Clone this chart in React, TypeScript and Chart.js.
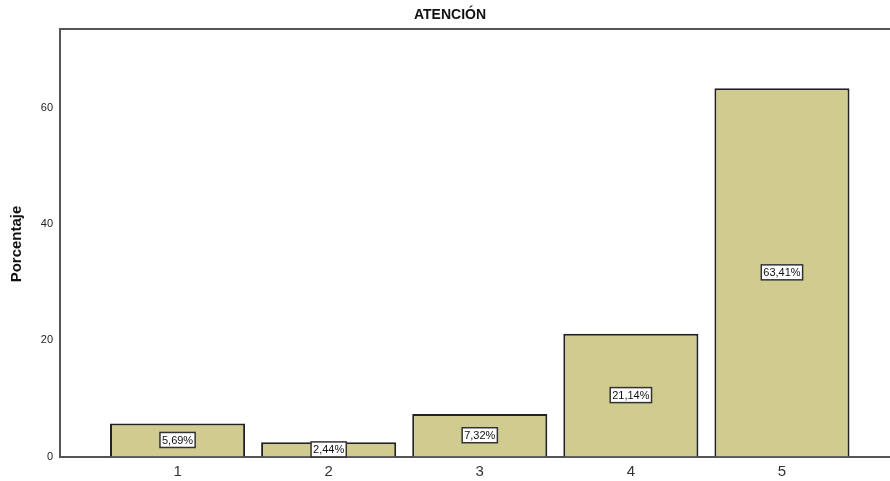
import React, { useEffect, useRef } from "react";
import { Chart, registerables } from "chart.js";

Chart.register(...registerables);

const categories = [1, 2, 3, 4, 5];
const percentages = [5.69, 2.44, 7.32, 21.14, 63.41];
const valueLabels = ["5,69%", "2,44%", "7,32%", "21,14%", "63,41%"];
const yTicks = [0, 20, 40, 60];
const chartTitle = "ATENCIÓN";
const yTitle = "Porcentaje";

const FONT = "'Liberation Sans', Arial, sans-serif";

const framePlugin = {
  id: "frame",
  afterDraw(chart: any) {
    const { ctx, chartArea } = chart;
    ctx.save();
    ctx.strokeStyle = "#555555";
    ctx.lineWidth = 2;
    ctx.beginPath();
    ctx.moveTo(chartArea.left, chartArea.top);
    ctx.lineTo(chartArea.right, chartArea.top);
    ctx.stroke();
    // title
    ctx.fillStyle = "#111111";
    ctx.font = `bold 14px ${FONT}`;
    ctx.textAlign = "center";
    ctx.textBaseline = "middle";
    ctx.fillText(chartTitle, 450, 15);
    // y title
    ctx.translate(17, 244);
    ctx.rotate(-Math.PI / 2);
    ctx.font = `bold 15px ${FONT}`;
    ctx.fillText(yTitle, 0, 0);
    ctx.restore();
  },
};

const labelPlugin = {
  id: "valueBoxes",
  afterDatasetsDraw(chart: any) {
    const { ctx } = chart;
    const meta = chart.getDatasetMeta(0);
    ctx.save();
    ctx.font = `11px ${FONT}`;
    ctx.textAlign = "center";
    ctx.textBaseline = "middle";
    meta.data.forEach((bar: any, i: number) => {
      const text = valueLabels[i];
      const cx = bar.x;
      const cy = (bar.y + bar.base) / 2;
      const w = ctx.measureText(text).width + 4;
      const h = 15;
      ctx.fillStyle = "#ffffff";
      ctx.fillRect(cx - w / 2, cy - h / 2, w, h);
      ctx.strokeStyle = "#333333";
      ctx.lineWidth = 1.5;
      ctx.strokeRect(cx - w / 2, cy - h / 2, w, h);
      ctx.fillStyle = "#111111";
      ctx.fillText(text, cx, cy + 0.5);
    });
    ctx.restore();
  },
};

export default function App() {
  const ref = useRef<HTMLCanvasElement | null>(null);
  useEffect(() => {
    if (!ref.current) return;
    const chart = new Chart(ref.current, {
      type: "bar",
      data: {
        datasets: [
          {
            data: categories.map((c, i) => ({ x: c, y: percentages[i] })),
            backgroundColor: "#D0CB8E",
            borderColor: "#222222",
            borderWidth: 2,
            categoryPercentage: 1,
            barPercentage: 0.894,
          },
        ],
      },
      options: {
        animation: false,
        responsive: false,
        devicePixelRatio: 1,
        layout: { padding: { top: 29, right: 0, left: 0, bottom: 0 } },
        plugins: {
          legend: { display: false },
          tooltip: { enabled: false },
          title: { display: false },
        },
        scales: {
          x: {
            type: "linear",
            min: 0.222,
            max: 5.715,
            offset: false,
            grid: { display: false, drawTicks: false },
            border: { display: true, color: "#555555", width: 2 },
            afterBuildTicks: (scale: any) => {
              scale.ticks = categories.map((v) => ({ value: v }));
            },
            afterFit: (scale: any) => {
              scale.height = 24.5;
            },
            ticks: {
              color: "#333333",
              font: { family: FONT, size: 15 },
              padding: 6,
              maxRotation: 0,
              callback: (v: any) => String(v),
            },
          },
          y: {
            min: 0,
            max: 73.6,
            grid: { display: false, drawTicks: false },
            border: { display: true, color: "#555555", width: 2 },
            afterBuildTicks: (scale: any) => {
              scale.ticks = yTicks.map((v) => ({ value: v }));
            },
            afterFit: (scale: any) => {
              scale.width = 60;
            },
            ticks: {
              color: "#222222",
              font: { family: FONT, size: 11 },
              padding: 7,
            },
          },
        },
      },
      plugins: [framePlugin, labelPlugin],
    });
    return () => chart.destroy();
  }, []);
  return (
    <div style={{ position: "absolute", left: 0, top: 0, width: 890, height: 481, background: "#fff" }}>
      <canvas ref={ref} width={890} height={481} style={{ width: 890, height: 481 }} />
    </div>
  );
}
